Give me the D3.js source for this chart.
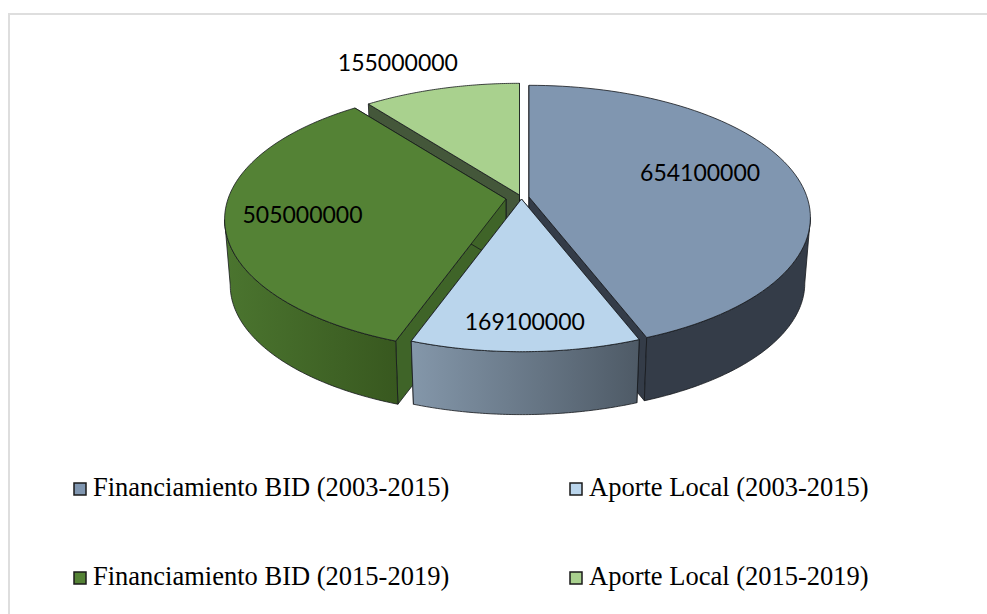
<!DOCTYPE html>
<html>
<head>
<meta charset="utf-8">
<script src="https://cdn.jsdelivr.net/npm/d3@7"></script>
<style>
  html, body { margin: 0; padding: 0; background: #fff; }
  svg { display: block; }
</style>
</head>
<body>
<div id="app"></div>
<script>
const categories = ['Financiamiento BID (2003-2015)', 'Aporte Local (2003-2015)', 'Financiamiento BID (2015-2019)', 'Aporte Local (2015-2019)']
const values = [654100000, 169100000, 505000000, 155000000]
const topColors = ['#8096b0', '#bad5ec', '#548235', '#a9d18e']
const cutColors = ['#343c48', '#5d6b79', '#3f6428', '#44573a']
const wallLeft = ['#343c48', '#8497aa', '#4b752f', '#4b752f']
const wallRight = ['#343c48', '#4e5a66', '#38581f', '#38581f']

const width = 987
const height = 614

// each slice is pulled away from the middle by a different amount
const explodeX = [0, -7.5, -23, -9.5]
const explodeY = [0, 2, 2, -2]

// where the value sits inside a slice: part of the radius, then a nudge
const labelRadius = [0.63, 0.83, 0.735, 1.36]
const labelNudgeX = [2, 0, 2, -20]
const labelNudgeY = [-9, 0, 1, 6]

const cx = 529
const cy = 197
const rx = 278
const ry = 129
const persp = 0.155
const depth = 66
const bottomScale = 0.98

const svg = d3.select('#app').append('svg')
    .attr('width', width)
    .attr('height', height)
    .attr('viewBox', [0, 0, width, height])

// chart frame, no bottom line in the picture
svg.append('path')
    .attr('d', d3.line()([[9, height], [9, 14], [width, 14]]))
    .attr('fill', 'none')
    .attr('stroke', '#dedede')
    .attr('stroke-width', 2)

const defs = svg.append('defs')
categories.forEach((c, i) => {
    const grad = defs.append('linearGradient').attr('id', 'wall-' + i)
    grad.append('stop').attr('offset', '0%').attr('stop-color', wallLeft[i])
    grad.append('stop').attr('offset', '100%').attr('stop-color', wallRight[i])
})

// angle is clockwise from 12 o'clock, r is part of the radius
function project(angle, r, i, lower) {
    const u = Math.sin(angle) * r
    const v = Math.cos(angle) * r
    const s = 1 / (1 + persp * v)
    const k = lower ? bottomScale : 1
    return [
        cx + explodeX[i] + rx * u * s * k,
        cy + explodeY[i] - ry * v * s * k + (lower ? depth : 0)
    ]
}

const arcs = d3.pie().sort(null).value(d => d)(values)
const line = d3.line()

function rim(i, from, to, lower) {
    return d3.range(0, 81).map(n => project(from + (to - from) * n / 80, 1, i, lower))
}

function cutFace(angle, i) {
    return [project(angle, 0, i, false), project(angle, 1, i, false), project(angle, 1, i, true), project(angle, 0, i, true)]
}

// outer wall only exists on the side facing the viewer
const frontStart = Math.acos(-persp)
const frontEnd = 2 * Math.PI - frontStart

function wallPath(d) {
    const from = Math.max(d.startAngle, frontStart)
    const to = Math.min(d.endAngle, frontEnd)
    if (from >= to) return null
    return line(rim(d.index, from, to, false).concat(rim(d.index, from, to, true).reverse())) + 'Z'
}

// painted back to front
const order = [3, 0, 2, 1]
const slices = svg.append('g')
    .selectAll('g')
    .data(order.map(i => arcs[i]))
    .enter().append('g')
    .attr('stroke', '#15181c')
    .attr('stroke-width', 0.8)
    .attr('stroke-linejoin', 'round')

slices.append('path')
    .attr('d', d => line(cutFace(d.startAngle, d.index)) + 'Z')
    .attr('fill', d => cutColors[d.index])
slices.append('path')
    .attr('d', d => line(cutFace(d.endAngle, d.index)) + 'Z')
    .attr('fill', d => cutColors[d.index])
slices.append('path')
    .attr('d', wallPath)
    .attr('fill', d => `url(#wall-${d.index})`)
slices.append('path')
    .attr('d', d => line([project(d.startAngle, 0, d.index, false)].concat(rim(d.index, d.startAngle, d.endAngle, false))) + 'Z')
    .attr('fill', d => topColors[d.index])

svg.append('g')
    .selectAll('text')
    .data(arcs)
    .enter().append('text')
    .attr('transform', d => {
        const p = project((d.startAngle + d.endAngle) / 2, labelRadius[d.index], d.index, false)
        return `translate(${p[0] + labelNudgeX[d.index]},${p[1] + labelNudgeY[d.index]})`
    })
    .attr('text-anchor', 'middle')
    .attr('dy', '0.35em')
    .attr('font-family', 'Lato')
    .attr('font-size', 23)
    .attr('fill', '#000')
    .text(d => d.data)

const legendX = d3.scalePoint().domain([0, 1]).range([73, 569])
const legendY = d3.scalePoint().domain([0, 1]).range([482, 571])

const legend = svg.append('g')
    .selectAll('g')
    .data(categories)
    .enter().append('g')
    .attr('transform', (d, i) => `translate(${legendX(i % 2)},${legendY(Math.floor(i / 2))})`)

legend.append('rect')
    .attr('x', 1)
    .attr('y', 1)
    .attr('width', 12)
    .attr('height', 12)
    .attr('fill', (d, i) => topColors[i])
    .attr('stroke', '#1a1a1a')
    .attr('stroke-width', 1.5)

legend.append('text')
    .attr('x', 20)
    .attr('y', 14)
    .attr('font-family', 'Liberation Serif')
    .attr('font-size', 26.5)
    .attr('fill', '#000')
    .text(d => d)
</script>
</body>
</html>
